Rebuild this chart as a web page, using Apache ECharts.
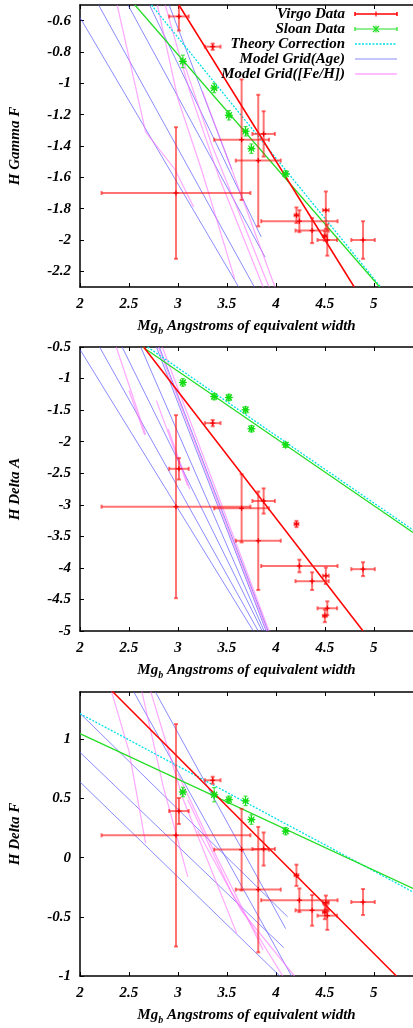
<!DOCTYPE html>
<html>
<head>
<meta charset="utf-8">
<script src="https://cdn.jsdelivr.net/npm/echarts@6/dist/echarts.min.js"></script>
<style>
html, body { margin: 0; padding: 0; background: #fff; }
#chart { width: 413px; height: 1028px; }
</style>
</head>
<body>
<div id="chart"></div>
<script>
// ---------------- data ----------------
// tick positions
const xTicks = [2, 2.5, 3, 3.5, 4, 4.5, 5];
const hgfTicks = [-2.2, -2, -1.8, -1.6, -1.4, -1.2, -1, -0.8, -0.6];
const hdaTicks = [-5, -4.5, -4, -3.5, -3, -2.5, -2, -1.5, -1, -0.5];
const hdfTicks = [-1, -0.5, 0, 0.5, 1];

// Virgo galaxies (same Mg_b in every panel)
const virgoMgb    = [2.98, 3.01, 3.355, 3.65, 3.82, 3.875, 4.21, 4.24, 4.37, 4.51, 4.525, 4.50, 4.89];
const virgoMgbErr = [0.76, 0.10, 0.08, 0.28, 0.23, 0.115, 0.02, 0.39, 0.17, 0.03, 0.10, 0.02, 0.12];
const hgfVirgo    = [-1.70, -0.573, -0.766, -1.36, -1.493, -1.323, -1.842, -1.88, -1.94, -1.81, -2.0, -1.975, -2.0];
const hgfVirgoErr = [0.42, 0.09, 0.02, 0.385, 0.42, 0.145, 0.05, 0.07, 0.08, 0.12, 0.10, 0.03, 0.12];
const hdaVirgo    = [-3.03, -2.43, -1.706, -3.056, -3.57, -2.94, -3.305, -3.97, -4.21, -4.125, -4.64, -4.76, -4.02];
const hdaVirgoErr = [1.45, 0.17, 0.05, 0.54, 0.78, 0.20, 0.05, 0.10, 0.14, 0.13, 0.11, 0.10, 0.11];
const hdfVirgo    = [0.189, 0.394, 0.654, 0.068, -0.27, 0.073, -0.149, -0.36, -0.445, -0.38, -0.49, -0.46, -0.375];
const hdfVirgoErr = [0.94, 0.11, 0.03, 0.345, 0.53, 0.14, 0.09, 0.10, 0.13, 0.06, 0.12, 0.06, 0.11];

// Sloan stacks
const sloanMgb    = [3.05, 3.37, 3.52, 3.69, 3.75, 4.10];
const sloanMgbErr = [0.02, 0.02, 0.02, 0.02, 0.02, 0.02];
const hgfSloan    = [-0.86, -1.03, -1.204, -1.306, -1.417, -1.578];
const hgfSloanErr = [0.04, 0.03, 0.03, 0.03, 0.03, 0.02];
const hdaSloan    = [-1.062, -1.285, -1.30, -1.495, -1.795, -2.05];
const hdaSloanErr = [0.06, 0.05, 0.05, 0.05, 0.05, 0.04];
const hdfSloan    = [0.555, 0.532, 0.49, 0.48, 0.322, 0.224];
const hdfSloanErr = [0.04, 0.06, 0.03, 0.04, 0.04, 0.03];

// fitted lines and theory correction (end points)
const hgfVirgoFit = [[3.01, -0.5], [4.80, -2.3]];
const hgfSloanFit = [[2.56, -0.5], [5.06, -2.3]];
const hgfTheory   = [[2.73, -0.5], [5.07, -2.3]];
const hdaVirgoFit = [[2.65, -0.5], [4.89, -5.0]];
const hdaSloanFit = [[2.64, -0.5], [5.4, -3.44]];
const hdaTheory   = [[2.69, -0.5], [5.4, -3.40]];
const hdfVirgoFit = [[2.32, 1.414], [5.23, -1.0]];
const hdfSloanFit = [[2.0, 1.048], [5.4, -0.26]];
const hdfTheory   = [[2.0, 1.217], [5.4, -0.29]];

// model grids: lines of constant age / constant [Fe/H]
const hgfAge = [
    [[2.00, -0.58], [3.62, -2.30]],
    [[2.19, -0.50], [3.78, -2.30]],
    [[2.49, -0.50], [3.89, -2.11]],
    [[2.71, -0.50], [3.85, -1.98]],
    [[2.91, -0.50], [3.55, -1.55]]
];
const hgfFeh = [
    [[2.38, -0.50], [2.67, -1.31], [2.97, -1.55], [3.16, -1.79]],
    [[2.79, -0.50], [3.00, -1.10], [3.24, -1.55], [3.58, -2.25]],
    [[2.87, -0.50], [3.12, -1.05], [3.42, -1.60], [3.87, -2.30]],
    [[3.05, -0.85], [3.35, -1.40], [3.93, -2.30]],
    [[3.25, -1.05], [3.55, -1.55], [3.99, -2.30]]
];
const hdaAge = [
    [[2.00, -0.54], [3.77, -5.00]],
    [[2.20, -0.50], [3.82, -5.00]],
    [[2.43, -0.50], [3.86, -5.00]],
    [[2.62, -0.50], [3.88, -5.00]],
    [[2.78, -0.50], [3.90, -5.00]],
    [[2.81, -0.50], [3.92, -5.00]]
];
const hdaFeh = [
    [[2.37, -0.50], [2.67, -1.89]],
    [[2.50, -1.19], [2.66, -1.89]],
    [[2.78, -1.35], [3.10, -2.70]],
    [[2.90, -1.80], [3.12, -2.75]],
    [[2.80, -0.50], [3.91, -5.00]],
    [[2.84, -0.50], [3.93, -5.00]]
];
const hdfAge = [
    [[2.00, 1.22], [4.12, -0.50]],
    [[2.00, 0.89], [4.08, -0.76]],
    [[2.00, 0.64], [4.04, -1.00]],
    [[2.55, 1.40], [4.16, -1.00]],
    [[2.77, 1.40], [4.10, -0.60]]
];
const hdfFeh = [
    [[2.32, 1.41], [2.50, 0.90], [2.67, 0.12]],
    [[2.63, 1.41], [2.85, 0.60], [3.10, -0.16]],
    [[2.72, 1.41], [3.05, 0.50], [3.60, -0.64]],
    [[3.00, 0.71], [3.40, 0.00], [3.87, -0.78]],
    [[3.10, 0.49], [3.55, -0.30], [4.07, -1.00]],
    [[3.20, 0.23], [3.65, -0.45], [4.19, -1.00]]
];

// ---------------- style ----------------
const FONT = '"Liberation Serif", "DejaVu Serif", serif';
const RED = '#ff0000';
const GREEN = '#22dd22';
const CYAN = '#00e0e8';
const BLUE = 'rgba(90,90,255,0.7)';
const PINK = 'rgba(255,110,255,0.6)';

const panels = [
    { name: 'H Gamma F', min: -2.3, max: -0.5, ticks: hgfTicks, top: 5, height: 282,
      vy: hgfVirgo, vyErr: hgfVirgoErr, sy: hgfSloan, syErr: hgfSloanErr,
      vfit: hgfVirgoFit, sfit: hgfSloanFit, theory: hgfTheory, age: hgfAge, feh: hgfFeh },
    { name: 'H Delta A', min: -5, max: -0.5, ticks: hdaTicks, top: 347, height: 284,
      vy: hdaVirgo, vyErr: hdaVirgoErr, sy: hdaSloan, syErr: hdaSloanErr,
      vfit: hdaVirgoFit, sfit: hdaSloanFit, theory: hdaTheory, age: hdaAge, feh: hdaFeh },
    { name: 'H Delta F', min: -1, max: 1.4, ticks: hdfTicks, top: 692, height: 284,
      vy: hdfVirgo, vyErr: hdfVirgoErr, sy: hdfSloan, syErr: hdfSloanErr,
      vfit: hdfVirgoFit, sfit: hdfSloanFit, theory: hdfTheory, age: hdfAge, feh: hdfFeh }
];

const labelStyle = { color: '#000', fontFamily: FONT, fontSize: 15, fontWeight: 'bold', fontStyle: 'italic' };

// error bars drawn through the axes
const errorBars = (color, width, markerColor, star) => (params, api) => {
    const x = api.value(0), y = api.value(1), dx = api.value(2), dy = api.value(3);
    const c = api.coord([x, y]);
    const l = api.coord([x - dx, y]), r = api.coord([x + dx, y]);
    const t = api.coord([x, y + dy]), b = api.coord([x, y - dy]);
    const st = { stroke: color, lineWidth: width };
    const cap = 2;
    const kids = [
        { type: 'line', shape: { x1: l[0], y1: l[1], x2: r[0], y2: r[1] }, style: st },
        { type: 'line', shape: { x1: t[0], y1: t[1], x2: b[0], y2: b[1] }, style: st },
        { type: 'line', shape: { x1: l[0], y1: l[1] - cap, x2: l[0], y2: l[1] + cap }, style: st },
        { type: 'line', shape: { x1: r[0], y1: r[1] - cap, x2: r[0], y2: r[1] + cap }, style: st },
        { type: 'line', shape: { x1: t[0] - cap, y1: t[1], x2: t[0] + cap, y2: t[1] }, style: st },
        { type: 'line', shape: { x1: b[0] - cap, y1: b[1], x2: b[0] + cap, y2: b[1] }, style: st }
    ];
    const ms = { stroke: markerColor, lineWidth: 1.2 };
    const s = star ? 4 : 2.5;
    kids.push({ type: 'line', shape: { x1: c[0] - s, y1: c[1], x2: c[0] + s, y2: c[1] }, style: ms });
    kids.push({ type: 'line', shape: { x1: c[0], y1: c[1] - s, x2: c[0], y2: c[1] + s }, style: ms });
    if (star) {
        const d = 3;
        kids.push({ type: 'line', shape: { x1: c[0] - d, y1: c[1] - d, x2: c[0] + d, y2: c[1] + d }, style: ms });
        kids.push({ type: 'line', shape: { x1: c[0] - d, y1: c[1] + d, x2: c[0] + d, y2: c[1] - d }, style: ms });
    }
    return { type: 'group', children: kids };
};

const lineSeries = (g, pts, color, width, type, z) => ({
    type: 'line', xAxisIndex: g * 2, yAxisIndex: g, data: pts,
    symbol: 'none', silent: true, clip: true, z: z,
    lineStyle: { color: color, width: width, type: type || 'solid' }
});

let grid = [], xAxis = [], yAxis = [], series = [];
panels.forEach((p, g) => {
    grid.push({ left: 76, top: p.top, width: 340, height: p.height });
    // bottom axis
    xAxis.push({
        gridIndex: g, type: 'value', min: 2, max: 5.4, position: 'bottom',
        axisLine: { onZero: false, lineStyle: { color: '#000', width: 1.5 } },
        axisTick: { inside: true, length: 4, customValues: xTicks, lineStyle: { color: '#000' } },
        axisLabel: Object.assign({ customValues: xTicks, margin: 10, formatter: v => String(+(+v).toFixed(2)) }, labelStyle),
        splitLine: { show: false },
        name: '{m|Mg}{s|b}{m| Angstroms of equivalent width}',
        nameLocation: 'middle', nameGap: 30,
        nameTextStyle: { rich: {
            m: labelStyle,
            s: Object.assign({}, labelStyle, { fontSize: 10, padding: [9, 0, 0, 0] })
        } }
    });
    // mirrored top axis (ticks only)
    xAxis.push({
        gridIndex: g, type: 'value', min: 2, max: 5.4, position: 'top',
        axisLine: { onZero: false, lineStyle: { color: '#000', width: 1.5 } },
        axisTick: { inside: true, length: 4, customValues: xTicks, lineStyle: { color: '#000' } },
        axisLabel: { show: false },
        splitLine: { show: false }
    });
    yAxis.push({
        gridIndex: g, type: 'value', min: p.min, max: p.max,
        axisLine: { show: true, onZero: false, lineStyle: { color: '#000', width: 1.5 } },
        axisTick: { inside: true, length: 4, customValues: p.ticks, lineStyle: { color: '#000' } },
        axisLabel: Object.assign({ customValues: p.ticks, margin: 9, formatter: v => String(+(+v).toFixed(2)) }, labelStyle),
        splitLine: { show: false },
        name: p.name, nameLocation: 'middle', nameGap: 57,
        nameTextStyle: labelStyle
    });

    p.age.forEach(pts => series.push(lineSeries(g, pts, BLUE, 1, null, 1)));
    p.feh.forEach(pts => series.push(lineSeries(g, pts, PINK, 1.2, null, 1)));
    series.push(lineSeries(g, p.theory, CYAN, 1.3, [2, 1.5], 2));
    series.push(lineSeries(g, p.sfit, GREEN, 1.2, null, 2));
    series.push(lineSeries(g, p.vfit, RED, 1.5, null, 3));

    series.push({
        type: 'custom', xAxisIndex: g * 2, yAxisIndex: g, clip: true, silent: true, z: 4,
        data: sloanMgb.map((x, i) => [x, p.sy[i], sloanMgbErr[i], p.syErr[i]]),
        renderItem: errorBars('rgba(30,220,30,0.8)', 1.2, '#11dd11', true)
    });
    series.push({
        type: 'custom', xAxisIndex: g * 2, yAxisIndex: g, clip: true, silent: true, z: 5,
        data: virgoMgb.map((x, i) => [x, p.vy[i], virgoMgbErr[i], p.vyErr[i]]),
        renderItem: errorBars('rgba(255,20,20,0.6)', 2, '#ee0000', false)
    });
});

// legend (gnuplot key) in the first panel
const keyRows = [
    { text: 'Virgo Data', y: 14 },
    { text: 'Sloan Data', y: 29 },
    { text: 'Theory Correction', y: 44 },
    { text: 'Model Grid(Age)', y: 59 },
    { text: 'Model Grid([Fe/H])', y: 74 }
];
const kx1 = 355, kx2 = 397, kxm = 376;
let graphic = [];
keyRows.forEach(r => graphic.push({
    type: 'text', x: 345, y: r.y, z: 20,
    style: { text: r.text, align: 'right', verticalAlign: 'middle', fill: '#000',
             font: 'italic bold 15px ' + FONT }
}));
const seg = (x1, y1, x2, y2, stroke, w, dash) => ({
    type: 'line', z: 20, shape: { x1, y1, x2, y2 },
    style: { stroke: stroke, lineWidth: w, lineDash: dash || null }
});
// Virgo sample
graphic.push(seg(kx1, 14, kx2, 14, RED, 1.5));
graphic.push(seg(kx1, 12, kx1, 16, RED, 1.5));
graphic.push(seg(kx2, 12, kx2, 16, RED, 1.5));
graphic.push(seg(kxm, 11.5, kxm, 16.5, RED, 1.2));
// Sloan sample
graphic.push(seg(kx1, 29, kx2, 29, GREEN, 1.2));
graphic.push(seg(kx1, 27, kx1, 31, GREEN, 1.2));
graphic.push(seg(kx2, 27, kx2, 31, GREEN, 1.2));
graphic.push(seg(kxm - 3, 26, kxm + 3, 32, GREEN, 1.2));
graphic.push(seg(kxm - 3, 32, kxm + 3, 26, GREEN, 1.2));
graphic.push(seg(kxm, 25.5, kxm, 32.5, GREEN, 1.2));
// Theory / grids
graphic.push(seg(kx1, 44, kx2, 44, CYAN, 1.3, [2, 1.5]));
graphic.push(seg(kx1, 59, kx2, 59, BLUE, 1));
graphic.push(seg(kx1, 74, kx2, 74, PINK, 1.5));

let option = {
    animation: false,
    backgroundColor: '#fff',
    grid: grid,
    xAxis: xAxis,
    yAxis: yAxis,
    series: series,
    graphic: graphic
};

const chartDom = document.getElementById('chart');
const myChart = echarts.init(chartDom);
myChart.setOption(option);
</script>
</body>
</html>
